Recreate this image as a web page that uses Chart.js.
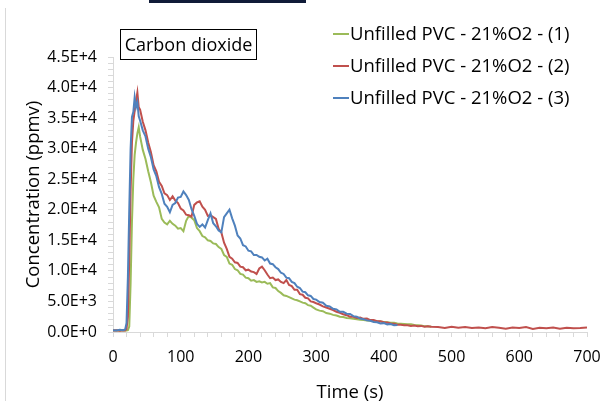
<!DOCTYPE html>
<html>
<head>
<meta charset="utf-8">
<script src="https://cdn.jsdelivr.net/npm/chart.js@4/dist/chart.umd.min.js"></script>
<style>
  html, body { margin: 0; padding: 0; background: #fff; }
  #wrap { position: relative; width: 604px; height: 401px; overflow: hidden; font-family: "Open Sans", sans-serif; }
  #chart { position: absolute; left: 0; top: 0; }
  .topbar { position: absolute; left: 149px; top: 0; width: 157px; height: 3px; background: #101b38; }
  .edge { position: absolute; left: 5px; top: 8px; width: 1px; height: 393px; background: #d9d9d9; }
  .gas { position: absolute; left: 120px; top: 29px; width: 137px; height: 31px; box-sizing: border-box;
         border: 1px solid #000; font-size: 18px; line-height: 29px; text-align: center; color: #000; }
  .legend { position: absolute; left: 333px; top: 21px; }
  .legend div { height: 32px; line-height: 24px; font-size: 18.5px; color: #000; white-space: nowrap; }
  .legend span { display: inline-block; width: 16px; height: 2px; vertical-align: middle; margin-right: 1px; position: relative; top: -1px; }
</style>
</head>
<body>
<div id="wrap">
  <canvas id="chart" width="604" height="401"></canvas>
  <div class="topbar"></div>
  <div class="edge"></div>
  <div class="gas">Carbon dioxide</div>
  <div class="legend" id="legend"></div>
</div>
<script>
// time in s, shared by the three runs (runs 1 and 3 stop earlier)
const times = [0, 5, 10, 15, 18, 20, 22, 24, 26, 28, 30, 32, 34, 36, 38, 40,
  44, 48, 52, 56, 60, 64, 68, 72, 76, 80, 84, 88, 92, 96, 100,
  104, 108, 112, 116, 120, 124, 128, 132, 136, 140, 144, 148, 152, 156, 160,
  164, 168, 172, 176, 180, 184, 188, 192, 196, 200, 204, 208, 212, 216, 220,
  224, 228, 232, 236, 240, 244, 248, 252, 256, 260, 264, 268, 272, 276, 280,
  284, 288, 292, 296, 300,
  305, 310, 315, 320, 325, 330, 335, 340, 345, 350, 355, 360, 365, 370, 375, 380, 385, 390, 395, 400,
  405, 410, 415, 420, 425, 430, 435, 440, 445, 450, 455, 460, 465, 470,
  480, 490, 500, 510, 520, 530, 540, 550, 560, 570, 580, 590, 600, 610, 620, 630, 640, 650, 660, 670, 680, 690, 700];

const seriesNames = ["Unfilled PVC - 21%O2 - (1)", "Unfilled PVC - 21%O2 - (2)", "Unfilled PVC - 21%O2 - (3)"];
const seriesColors = ["#9bbb59", "#c0504d", "#4f81bd"];

// CO2 concentration, ppmv
const run1 = [250, 300, 200, 300, 250, 250, 300, 900, 8000, 18000, 25000, 29000, 31000, 32500, 33500, 32000,
  29800, 28300, 26300, 24500, 22300, 21300, 20400, 18500, 17900, 17600, 18200, 17700, 17400, 16900, 17000,
  16500, 18200, 19000, 18700, 18300, 17000, 16500, 15700, 15500, 15000, 14900, 14500, 14400, 13900, 13600,
  12600, 12300, 11200, 11000, 10300, 10100, 9500, 9400, 8900, 8800, 8400, 8500, 8200, 8300, 8100,
  8200, 7900, 8000, 7300, 7200, 6700, 6400, 6000, 5900, 5700, 5500, 5300, 5200, 5000, 4800,
  4700, 4400, 4300, 4000, 3700,
  3500, 3400, 3100, 3000, 2800, 2700, 2500, 2450, 2300, 2250, 2150, 2100, 2000, 1950, 1900, 1850, 1800, 1750, 1700, 1650,
  1600, 1500, 1500, 1400, 1350, 1300, 1250, 1250, 1150, 1100, 1050, 950, 950, 850];

const run2 = [250, 300, 200, 300, 250, 500, 2500, 12000, 23000, 31000, 34500, 36200, 37800, 39200, 36800, 36400,
  34400, 33000, 31000, 29400, 27300, 26300, 24600, 23900, 22700, 22400, 21600, 22200, 21500, 21100, 20200,
  19900, 19200, 19100, 18900, 20800, 21200, 21400, 20500, 20000, 19000, 19100, 18800, 18500, 16900, 16300,
  14600, 13600, 12300, 12000, 11400, 11300, 10700, 10600, 10100, 10200, 9900, 9800, 9500, 10400, 10700,
  10100, 9400, 8800, 8900, 8500, 8600, 8200, 8000, 8500, 7700, 7500, 6900, 6900, 6200, 6100,
  5600, 5500, 5000, 4900, 4700,
  4500, 4200, 4000, 3800, 3600, 3300, 3150, 2900, 2750, 2500, 2500, 2300, 2350, 2150, 2200, 1950, 1950, 1750, 1750, 1600,
  1550, 1400, 1350, 1200, 1200, 1100, 1100, 1000, 1050, 950, 1000, 850, 950, 850,
  800, 650, 850, 700, 800, 650, 750, 600, 800, 700, 550, 750, 650, 800, 500, 700, 600, 750, 550, 700, 600, 650, 750];

const run3 = [300, 250, 350, 300, 400, 1500, 9000, 20000, 30000, 35200, 36000, 38400, 36800, 37600, 35300, 34600,
  33000, 32000, 30000, 28600, 26600, 25500, 23700, 22600, 21000, 20500, 19600, 20800, 21100, 22000, 22100,
  23000, 22400, 21600, 20100, 19000, 17700, 17200, 17600, 17100, 18300, 19400, 17800, 17300, 16600, 16300,
  18800, 19400, 20000, 18600, 17400, 15800, 15300, 14200, 14000, 13300, 13200, 12600, 12600, 12300, 12200,
  11700, 12000, 11200, 11100, 10600, 10300, 9700, 9500, 8900, 8800, 8200, 8000, 7400, 7200, 6600,
  6500, 6000, 5900, 5400, 5300,
  4900, 4800, 4300, 4200, 3800, 3700, 3300, 3300, 3000, 2950, 2600, 2500, 2200, 2100, 1900, 1850, 1650, 1600, 1400, 1450,
  1250, 1300, 1100, 1150];

const runs = [run1, run2, run3];

// legend
const legendBox = document.getElementById("legend");
seriesNames.forEach((name, i) => {
  const row = document.createElement("div");
  const mark = document.createElement("span");
  mark.style.background = seriesColors[i];
  row.appendChild(mark);
  row.appendChild(document.createTextNode(name));
  legendBox.appendChild(row);
});

const sci = v => {
  if (v === 0) return "0.0E+0";
  const e = Math.floor(Math.log10(v));
  return (v / Math.pow(10, e)).toFixed(1) + "E+" + e;
};

const axisGrey = "#d9d9d9";

new Chart(document.getElementById("chart"), {
  type: "line",
  data: {
    datasets: runs.map((vals, i) => ({
      label: seriesNames[i],
      data: vals.map((v, k) => ({ x: times[k], y: v })),
      borderColor: seriesColors[i],
      backgroundColor: seriesColors[i],
      borderWidth: 2,
      pointRadius: 0,
      tension: 0,
      order: 3 - i,
    })),
  },
  options: {
    responsive: false,
    animation: false,
    devicePixelRatio: 1,
    layout: { padding: { left: 0, top: 57, right: 17, bottom: 0 } },
    plugins: { legend: { display: false }, tooltip: { enabled: false } },
    scales: {
      x: {
        type: "linear",
        min: 0,
        max: 700,
        afterFit: s => { s.height = 69; s.paddingLeft = 0; s.paddingRight = 0; },
        border: { display: true, color: axisGrey, width: 1 },
        grid: { drawOnChartArea: false, drawTicks: true, tickLength: 5, color: axisGrey },
        ticks: {
          stepSize: 20,
          autoSkip: false,
          maxRotation: 0,
          padding: 11,
          color: "#000",
          font: { family: "Open Sans", size: 16 },
          callback: v => (v % 100 === 0 ? String(v) : ""),
        },
        title: { display: true, text: "Time (s)", color: "#000", font: { family: "Open Sans", size: 18.5 }, padding: { top: 0, bottom: -3 } },
      },
      y: {
        min: 0,
        max: 45000,
        afterFit: s => { s.width = 113; },
        border: { display: true, color: axisGrey, width: 1 },
        grid: { drawOnChartArea: false, drawTicks: true, tickLength: 5, color: axisGrey },
        ticks: {
          stepSize: 1000,
          autoSkip: false,
          padding: 11,
          color: "#000",
          font: { family: "Open Sans", size: 16 },
          callback: v => (v % 5000 === 0 ? sci(v) : ""),
        },
        title: { display: true, text: "Concentration (ppmv)", color: "#000", font: { family: "Open Sans", size: 18.5 }, padding: { top: 23, bottom: 0 } },
      },
    },
  },
});
</script>
</body>
</html>
